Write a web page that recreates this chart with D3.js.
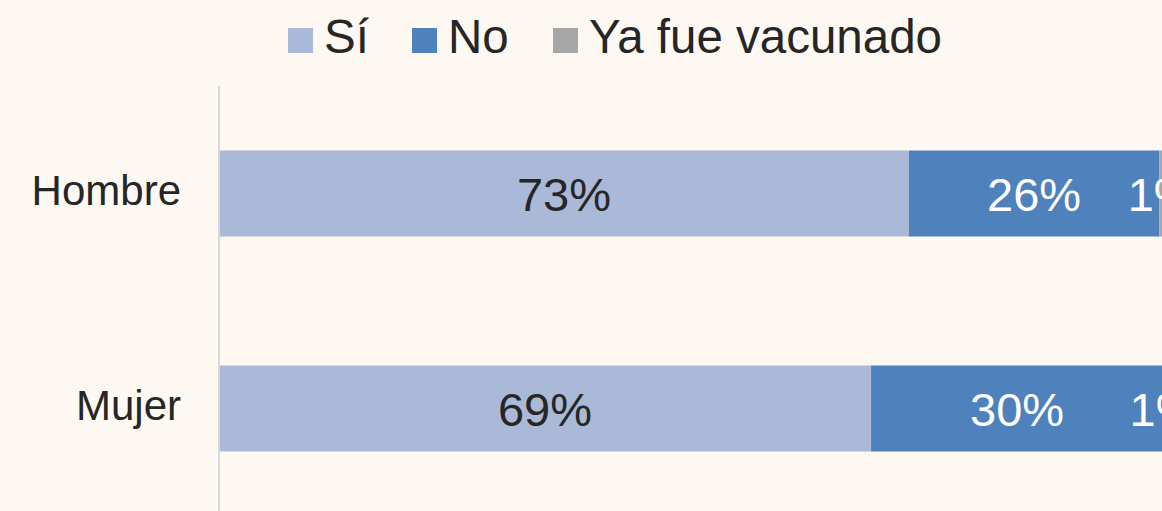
<!DOCTYPE html>
<html lang="es">
<head>
    <meta charset="UTF-8">
    <script src="https://d3js.org/d3.v7.min.js"></script>
    <style>
        body { margin: 0; background: #fdf8f2; }
        svg { display: block; font-family: "Liberation Sans", Arial, sans-serif; }
    </style>
    <title>Vacunación por sexo</title>
</head>
<body>
    <script>
        // Chart data
        const categories = ["Hombre", "Mujer"];
        const seriesNames = ["Sí", "No", "Ya fue vacunado"];
        const siValues = [73.0, 69.0];
        const noValues = [26.5, 30.9];
        const yaValues = [0.5, 0.1];
        const siLabels = ["73%", "69%"];
        const noLabels = ["26%", "30%"];
        const yaLabels = ["1%", "1%"];

        const colors = ["#a9b9d7", "#4f81bd", "#a6a6a6"];
        const labelColors = ["#262626", "#ffffff", "#ffffff"];

        const width = 1162;
        const height = 511;

        const svg = d3.select("body")
            .append("svg")
            .attr("width", width)
            .attr("height", height);

        svg.append("rect")
            .attr("width", width)
            .attr("height", height)
            .attr("fill", "#fdf8f2");

        // Build rows for the stack
        const rows = categories.map((c, i) => ({
            cat: c,
            "Sí": siValues[i],
            "No": noValues[i],
            "Ya fue vacunado": yaValues[i]
        }));
        const labels = [siLabels, noLabels, yaLabels];

        const stack = d3.stack().keys(seriesNames)(rows);

        const x = d3.scaleLinear()
            .domain([0, 100])
            .range([219, 1164]);

        const y = d3.scaleBand()
            .domain(categories)
            .range([86, 516])
            .paddingInner(0.6)
            .paddingOuter(0.3);

        // Bars
        const layer = svg.selectAll("g.layer")
            .data(stack)
            .enter().append("g")
            .attr("class", "layer")
            .attr("fill", (d, i) => colors[i]);

        layer.selectAll("rect")
            .data(d => d)
            .enter().append("rect")
            .attr("x", d => x(d[0]))
            .attr("y", d => y(d.data.cat))
            .attr("width", d => x(d[1]) - x(d[0]))
            .attr("height", y.bandwidth());

        // Data labels (the 1% ones run off the right edge, as in the original)
        stack.forEach((s, si) => {
            svg.selectAll(null)
                .data(s)
                .enter().append("text")
                .attr("x", d => (x(d[0]) + x(d[1])) / 2)
                .attr("y", d => y(d.data.cat) + y.bandwidth() / 2 + 17)
                .attr("text-anchor", "middle")
                .attr("font-size", 47)
                .attr("fill", labelColors[si])
                .text((d, i) => labels[si][i]);
        });

        // Vertical axis line
        svg.append("line")
            .attr("x1", 219).attr("x2", 219)
            .attr("y1", 86).attr("y2", height)
            .attr("stroke", "#d9d9d9")
            .attr("stroke-width", 2);

        // Category labels
        svg.selectAll("text.cat")
            .data(categories)
            .enter().append("text")
            .attr("class", "cat")
            .attr("x", 181)
            .attr("y", d => y(d) + y.bandwidth() / 2 + 11)
            .attr("text-anchor", "end")
            .attr("font-size", 42)
            .attr("fill", "#262626")
            .text(d => d);

        // Legend
        const legendX = [288, 412, 553];
        const legend = svg.selectAll("g.legend")
            .data(seriesNames)
            .enter().append("g")
            .attr("class", "legend")
            .attr("transform", (d, i) => `translate(${legendX[i]},0)`);

        legend.append("rect")
            .attr("y", 28)
            .attr("width", 25)
            .attr("height", 25)
            .attr("fill", (d, i) => colors[i]);

        legend.append("text")
            .attr("x", 36)
            .attr("y", 53)
            .attr("font-size", 47.5)
            .attr("fill", "#262626")
            .text(d => d);
    </script>
</body>
</html>
